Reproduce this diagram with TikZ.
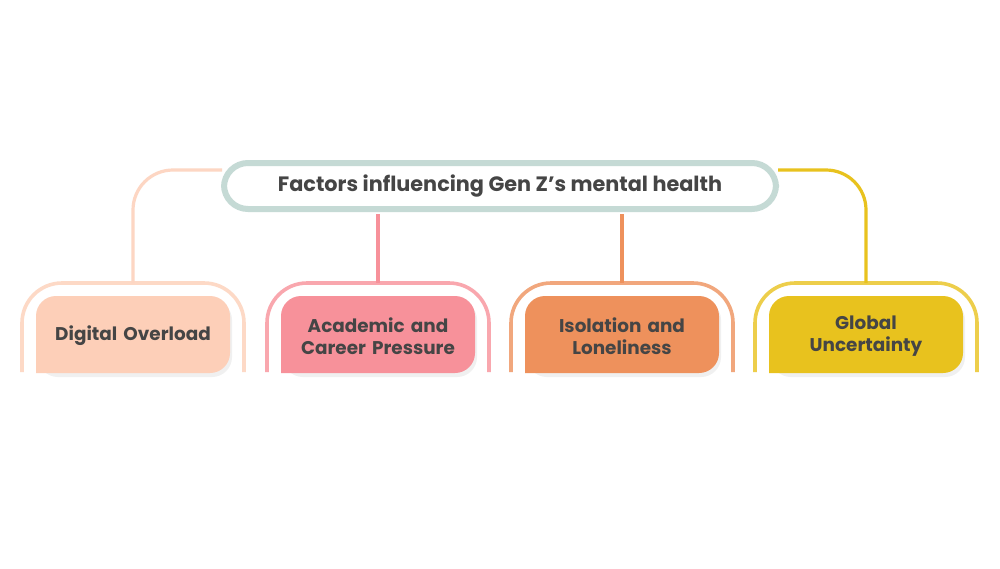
\documentclass[tikz,border=0pt]{standalone}
\usepackage{fontspec}
\setmainfont{Poppins}
\usetikzlibrary{positioning}
\definecolor{titleline}{HTML}{C5DAD5}
\definecolor{peach}{HTML}{FDCFB8}
\definecolor{pinkish}{HTML}{F7919A}
\definecolor{orangey}{HTML}{EE915C}
\definecolor{goldy}{HTML}{E8C21E}
\definecolor{inkgrey}{HTML}{454545}
\tikzset{
  frame/.style={line width=1.8pt, rounded corners=20pt},
  link/.style={line width=1.6pt, rounded corners=20pt},
  cardtext/.style={text=inkgrey, font=\bfseries\fontsize{9.2}{11}\selectfont, align=center, text width=90pt},
}
% one factor card: centre x, colour, name, text
\newcommand{\factorcard}[4]{
  \draw[frame, draw=#2!80] (#1-111,372) -- (#1-111,283) -- (#1+111,283) -- (#1+111,372);
  \fill[black!6, rounded corners=10pt] (#1-95,300) -- (#1-95,377) -- (#1+99,377) -- (#1+99,300) -- cycle;
  \fill[#2, rounded corners=10pt] (#1-97,373) -- (#1-97,296) -- (#1+97,296) -- (#1+97,373) [sharp corners] -- cycle;
  \node[cardtext] (#3) at (#1,336) {#4};
  \coordinate (#3top) at (#1,283);
}
\begin{document}
\begin{tikzpicture}[x=0.5pt, y=-0.5pt]
\useasboundingbox[fill=white] (0,0) rectangle (1000,568);

\factorcard{133}{peach}{digital}{Digital Overload}
\factorcard{378}{pinkish}{academic}{Academic and\\Career Pressure}
\factorcard{622}{orangey}{isolation}{Isolation and\\Loneliness}
\factorcard{866}{goldy}{global}{Global\\Uncertainty}

\coordinate (lefthook) at (222,170);
\coordinate (righthook) at (778,170);
\draw[link, draw=peach!85] (lefthook) -- (133,170) -- (digitaltop);
\draw[link, draw=goldy] (righthook) -- (866,170) -- (globaltop);

\node[draw=titleline, line width=3pt, fill=white, rounded corners=12pt,
      minimum width=276pt, minimum height=23pt, text=inkgrey,
      font=\bfseries\fontsize{10.4}{12}\selectfont] (title) at (500,186)
      {Factors influencing Gen Z's mental health};

\draw[line width=1.6pt, draw=pinkish] (title.south -| academictop) ++(0,2) -- (academictop);
\draw[line width=1.6pt, draw=orangey] (title.south -| isolationtop) ++(0,2) -- (isolationtop);
\end{tikzpicture}
\end{document}
